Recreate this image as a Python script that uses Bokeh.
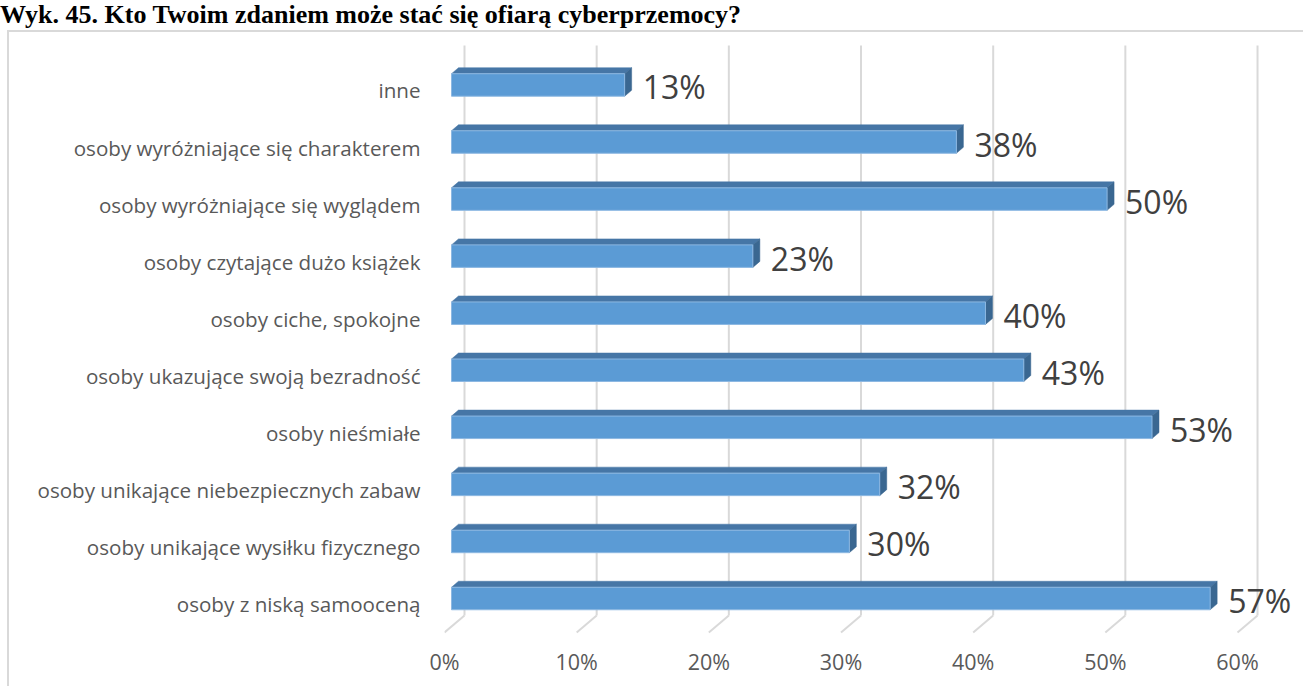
from bokeh.plotting import figure
from bokeh.models import Range1d, LinearAxis, FixedTicker, ColumnDataSource, Div, Column
from bokeh.core.properties import value
from bokeh.embed import file_html
from bokeh.resources import INLINE

# ---------------- data ----------------
TITLE = "Wyk. 45. Kto Twoim zdaniem może stać się ofiarą cyberprzemocy?"
CATEGORIES = [
    "osoby z niską samooceną",
    "osoby unikające wysiłku fizycznego",
    "osoby unikające niebezpiecznych zabaw",
    "osoby nieśmiałe",
    "osoby ukazujące swoją bezradność",
    "osoby ciche, spokojne",
    "osoby czytające dużo książek",
    "osoby wyróżniające się wyglądem",
    "osoby wyróżniające się charakterem",
    "inne",
]
VALUES = [57.4, 30.1, 32.4, 53.0, 43.3, 40.4, 22.8, 49.6, 38.2, 13.1]
VALUE_LABELS = ["57%", "30%", "32%", "53%", "43%", "40%", "23%", "50%", "38%", "13%"]
TICK_VALUES = [0, 10, 20, 30, 40, 50, 60]
TICK_LABELS = ["0%", "10%", "20%", "30%", "40%", "50%", "60%"]

# ---------------- geometry (page pixels) ----------------
TITLE_H = 30
W, H = 1296, 656
OX, OY = 9, TITLE_H + 2     # page position of the canvas origin
FRONT0_X = 444             # front floor, 0 %
BAR0_X = 451               # bar plane, 0 %
PX_PER_PCT = 13.217
ROW0_Y = 598               # centre of the lowest bar
PX_PER_ROW = 57.06
FRAME_BOTTOM = 640
GRID_TOP_Y, FLOOR_BACK_Y, FLOOR_FRONT_Y = 45, 615, 632
GRID_BACK_X = 464
LABEL_DY = 5.5
BAR_H_PX = 22.5
DEPTH_X, DEPTH_Y = 7, 6

s, k = PX_PER_PCT, PX_PER_ROW
x_start = (FRONT0_X - BAR0_X) / s
x_end = x_start + (OX + W - FRONT0_X) / s
y_start = (ROW0_Y - FRAME_BOTTOM) / k
y_end = (ROW0_Y - OY) / k

p = figure(width=W, height=H, output_backend="svg", toolbar_location=None,
           x_range=Range1d(x_start, x_end), y_range=Range1d(y_start, y_end),
           x_axis_location=None, y_axis_location=None,
           min_border_left=FRONT0_X - OX, min_border_right=0, min_border_top=0,
           min_border_bottom=OY + H - FRAME_BOTTOM, margin=(0, 0, 0, OX - 2))
p.title.visible = False
p.grid.grid_line_color = None
p.outline_line_color = None
p.background_fill_color = "white"
p.border_fill_color = "white"
p.styles = {"border-left": "2px solid #D9D9D9", "border-top": "2px solid #D9D9D9"}

p.extra_x_ranges = {"tick": Range1d(0, (OX + W - FRONT0_X) / s)}
p.extra_y_ranges = {"lab": Range1d(y_start + LABEL_DY / k, y_end + LABEL_DY / k)}

FONT = "Open Sans"

xaxis = LinearAxis(x_range_name="tick", ticker=FixedTicker(ticks=TICK_VALUES),
                   major_label_overrides={t: l for t, l in zip(TICK_VALUES, TICK_LABELS)})
xaxis.axis_line_color = None
xaxis.major_tick_line_color = None
xaxis.minor_tick_line_color = None
xaxis.major_tick_out = 0
xaxis.major_tick_in = 0
xaxis.major_label_standoff = 6
xaxis.major_label_text_font = FONT
xaxis.major_label_text_font_size = "21.5px"
xaxis.major_label_text_color = "#595959"
p.add_layout(xaxis, "below")

idx = list(range(len(CATEGORIES)))
yaxis = LinearAxis(y_range_name="lab", ticker=FixedTicker(ticks=idx),
                   major_label_overrides={i: c for i, c in zip(idx, CATEGORIES)})
yaxis.axis_line_color = None
yaxis.major_tick_line_color = None
yaxis.minor_tick_line_color = None
yaxis.major_tick_out = 0
yaxis.major_tick_in = 0
yaxis.major_label_standoff = FRONT0_X - 420
yaxis.major_label_text_font = FONT
yaxis.major_label_text_font_size = "20.6px"
yaxis.major_label_text_color = "#595959"
p.add_layout(yaxis, "left")

# gridlines (back wall + floor diagonals)
gx_back = [t + (GRID_BACK_X - BAR0_X) / s for t in TICK_VALUES]
gx_front = [t + (FRONT0_X - BAR0_X) / s for t in TICK_VALUES]
y_top = (ROW0_Y - GRID_TOP_Y) / k
y_fb = (ROW0_Y - FLOOR_BACK_Y) / k
y_ff = (ROW0_Y - FLOOR_FRONT_Y) / k
p.segment(x0=gx_back, y0=[y_top] * len(gx_back), x1=gx_back, y1=[y_fb] * len(gx_back),
          line_color="#D9D9D9", line_width=2)
p.segment(x0=gx_back, y0=[y_fb] * len(gx_back), x1=gx_front, y1=[y_ff] * len(gx_back),
          line_color="#D9D9D9", line_width=2)

# bars
bh = BAR_H_PX / k
dx, dy = DEPTH_X / s, DEPTH_Y / k
src = ColumnDataSource(dict(y=idx, v=VALUES, lab=VALUE_LABELS))
top_xs = [[0, v, v + dx, dx] for v in VALUES]
top_ys = [[i + bh / 2, i + bh / 2, i + bh / 2 + dy, i + bh / 2 + dy] for i in idx]
side_xs = [[v, v + dx, v + dx, v] for v in VALUES]
side_ys = [[i - bh / 2, i - bh / 2 + dy, i + bh / 2 + dy, i + bh / 2] for i in idx]
p.patches(xs=top_xs, ys=top_ys, fill_color="#4676A6", line_color="#4676A6", line_width=0.5)
p.patches(xs=side_xs, ys=side_ys, fill_color="#3A6791", line_color="#3A6791", line_width=0.5)
p.hbar(y="y", left=0, right="v", height=bh, source=src,
       fill_color="#5B9BD5", line_color="#8DB8E2", line_width=1)

p.text(x="v", y="y", text="lab", source=src, x_offset=18, y_offset=2,
       text_font=value(FONT), text_font_size="32px", text_color="#404040",
       text_baseline="middle", text_align="left")

title_div = Div(
    text=('<div style="font-family:\'Liberation Serif\',\'Times New Roman\',serif;'
          'font-weight:bold;font-size:26px;line-height:30px;white-space:nowrap;color:#000">'
          + TITLE + '</div>'),
    width=1000, height=TITLE_H, margin=(0, 0, 0, 0))

layout = Column(title_div, p, spacing=0)
open("out.html", "w").write(file_html(layout, INLINE))
